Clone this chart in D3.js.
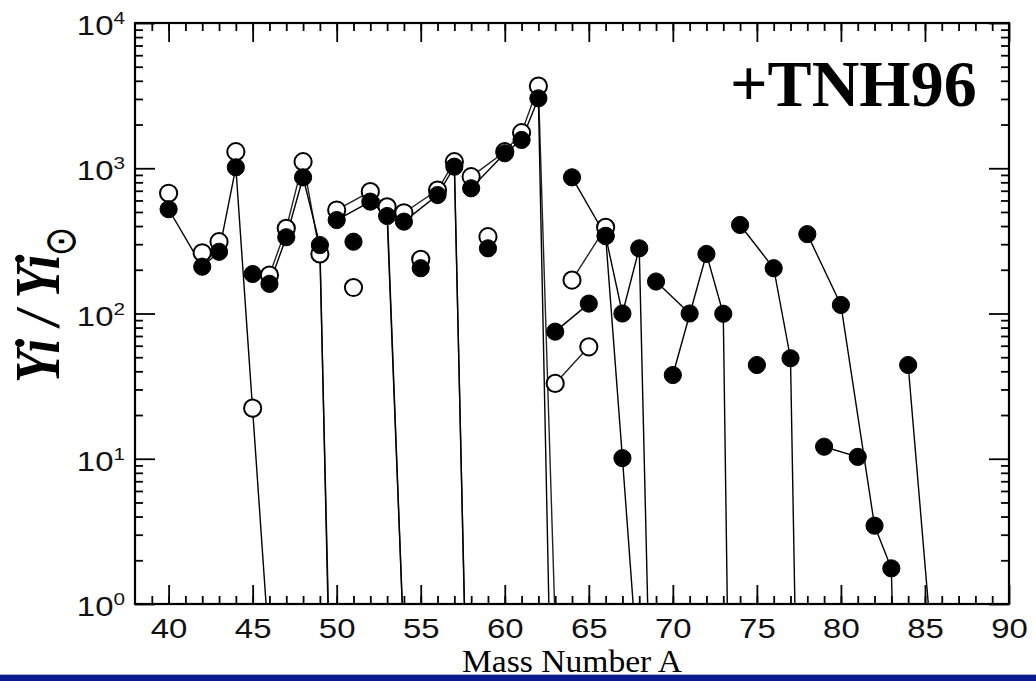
<!DOCTYPE html>
<html>
<head>
<meta charset="utf-8">
<script src="https://cdn.jsdelivr.net/npm/d3@7"></script>
<style>
  html, body { margin: 0; padding: 0; background: #fff; }
  svg { display: block; }
</style>
</head>
<body>
<div id="chart"></div>
<script>
// axis ticks
var massTicks = [40, 45, 50, 55, 60, 65, 70, 75, 80, 85, 90]
var decadeTicks = [1, 10, 100, 1000, 10000]
var decadeExp = ["0", "1", "2", "3", "4"]

// filled circles: [mass number, Yi / Yi(sun)], one array per element chain
var filledCa = [[40, 522], [42, 210], [43, 266], [44, 1015], [46, 0.46]]
var filledSc = [[45, 187]]
var filledTi = [[46, 160], [47, 335], [48, 866], [49, 296], [50, 0.002]]
var filledV = [[51, 312]]
var filledCr = [[50, 440], [52, 589], [53, 469], [54, 0.5]]
var filledMn = [[55, 205]]
var filledFe = [[54, 429], [56, 654], [57, 1025], [58, 0.01]]
var filledCo = [[59, 281]]
var filledNi = [[58, 728], [60, 1268], [61, 1566], [62, 3030], [64, 2e-8]]
var filledCu = [[63, 75], [65, 117]]
var filledZn = [[64, 866], [66, 342], [67, 100], [68, 281], [70, 5e-8]]
var filledZn2 = [[66, 342], [67, 10.1], [68, 0.27]]
var filledGa = [[69, 166], [71, 100]]
var filledGe = [[70, 37.7], [72, 257], [73, 99.6], [74, 5e-7]]
var filledAs = [[75, 44.2]]
var filledSe = [[74, 407], [76, 205], [77, 49.2], [78, 1.6e-5]]
var filledBr = [[79, 12.1], [81, 10.3]]
var filledKr = [[78, 352], [80, 114.5], [82, 3.46], [83, 1.76], [84, 1.6e-5]]
var filledSr = [[84, 44.2], [86, 0.08]]

// open circles (the Ca ones are not joined in the figure)
var openCa40 = [[40, 673]]
var openCa42 = [[42, 262]]
var openCa43 = [[43, 312]]
var openCa44 = [[44, 1300]]
var openSc = [[45, 22.3]]
var openTi = [[46, 184], [47, 386], [48, 1110], [49, 257], [50, 0.004]]
var openV = [[51, 151]]
var openCr = [[50, 516], [52, 690], [53, 543], [54, 0.5]]
var openMn = [[55, 236]]
var openFe = [[54, 494], [56, 708], [57, 1110], [58, 0.008]]
var openCo = [[59, 338]]
var openNi = [[58, 875], [60, 1300], [61, 1757], [62, 3680], [64, 1.4e-4]]
var openCu = [[63, 33], [65, 59]]
var openZn = [[64, 170], [66, 392]]

var filledChains = [filledCa, filledSc, filledTi, filledV, filledCr, filledMn, filledFe, filledCo,
    filledNi, filledCu, filledZn, filledZn2, filledGa, filledGe, filledAs, filledSe, filledBr, filledKr, filledSr]
var openChains = [openCa40, openCa42, openCa43, openCa44, openSc, openTi, openV, openCr, openMn,
    openFe, openCo, openNi, openCu, openZn]

function drawChart() {
    var W = 1036, H = 681
    var pL = 135, pR = 1009, pT = 23, pB = 604

    var svg = d3.select("#chart").append("svg")
        .attr("width", W)
        .attr("height", H)

    var x = d3.scaleLinear().domain([38, 90]).range([pL, pR])
    var y = d3.scaleLog().domain([1, 10000]).range([pB, pT])

    svg.append("clipPath").attr("id", "plotclip")
        .append("rect")
        .attr("x", pL).attr("y", pT)
        .attr("width", pR - pL).attr("height", pB - pT)

    var minorMass = d3.range(39, 90)
    var minorY = []
    decadeTicks.slice(0, -1).forEach(d => {
        for (var k = 2; k <= 9; k++) minorY.push(d * k)
    })

    function styleAxis(g) {
        g.select(".domain").remove()
        g.selectAll(".tick line").attr("stroke", "#000").attr("stroke-width", 1.8)
    }

    // bottom + top ticks
    svg.append("g").attr("transform", `translate(0,${pB})`)
        .call(d3.axisBottom(x).tickValues(minorMass).tickSize(-8).tickFormat(""))
        .call(styleAxis)
    var xAxis = svg.append("g").attr("transform", `translate(0,${pB})`)
        .call(d3.axisBottom(x).tickValues(massTicks).tickSize(-19).tickPadding(15).tickFormat(d3.format("d")))
        .call(styleAxis)
    xAxis.selectAll(".tick text")
        .attr("font-family", "'Liberation Sans', Arial, Helvetica, sans-serif")
        .attr("font-size", 27)
        .attr("fill", "#111")
        .attr("transform", "scale(1.22,1)")
    svg.append("g").attr("transform", `translate(0,${pT})`)
        .call(d3.axisTop(x).tickValues(minorMass).tickSize(-8).tickFormat(""))
        .call(styleAxis)
    svg.append("g").attr("transform", `translate(0,${pT})`)
        .call(d3.axisTop(x).tickValues(massTicks).tickSize(-19).tickFormat(""))
        .call(styleAxis)

    // left + right ticks
    svg.append("g").attr("transform", `translate(${pL},0)`)
        .call(d3.axisLeft(y).tickValues(minorY).tickSize(-8).tickFormat(""))
        .call(styleAxis)
    svg.append("g").attr("transform", `translate(${pL},0)`)
        .call(d3.axisLeft(y).tickValues(decadeTicks).tickSize(-20).tickFormat(""))
        .call(styleAxis)
    svg.append("g").attr("transform", `translate(${pR},0)`)
        .call(d3.axisRight(y).tickValues(minorY).tickSize(-8).tickFormat(""))
        .call(styleAxis)
    svg.append("g").attr("transform", `translate(${pR},0)`)
        .call(d3.axisRight(y).tickValues(decadeTicks).tickSize(-20).tickFormat(""))
        .call(styleAxis)

    // y tick labels 10^n
    var yLab = svg.append("g")
        .selectAll("text")
        .data(decadeTicks)
        .enter().append("text")
        .attr("transform", d => `translate(${pL - 10},${y(d) + 12}) scale(1.22,1)`)
        .attr("text-anchor", "end")
        .attr("font-family", "'Liberation Sans', Arial, Helvetica, sans-serif")
        .attr("font-size", 27)
        .attr("fill", "#111")
    yLab.append("tspan").text("10")
    yLab.append("tspan")
        .attr("font-size", 17)
        .attr("dy", -11)
        .text((d, i) => decadeExp[i])

    // frame
    svg.append("rect")
        .attr("x", pL).attr("y", pT)
        .attr("width", pR - pL).attr("height", pB - pT)
        .attr("fill", "none").attr("stroke", "#000").attr("stroke-width", 2.2)

    // lines
    var line = d3.line().x(d => x(d[0])).y(d => y(d[1]))
    var plot = svg.append("g").attr("clip-path", "url(#plotclip)")

    plot.selectAll(".chain-open")
        .data(openChains.filter(c => c.length > 1))
        .enter().append("path")
        .attr("class", "chain-open")
        .attr("d", line)
        .attr("fill", "none").attr("stroke", "#222").attr("stroke-width", 1.4)
    plot.selectAll(".chain-filled")
        .data(filledChains.filter(c => c.length > 1))
        .enter().append("path")
        .attr("class", "chain-filled")
        .attr("d", line)
        .attr("fill", "none").attr("stroke", "#000").attr("stroke-width", 1.4)

    // markers
    var r = 8.6
    plot.selectAll(".open")
        .data(openChains.flat().filter(d => d[1] >= 1))
        .enter().append("circle")
        .attr("class", "open")
        .attr("cx", d => x(d[0])).attr("cy", d => y(d[1]))
        .attr("r", r)
        .attr("fill", "#fff").attr("stroke", "#000").attr("stroke-width", 2)
    plot.selectAll(".filled")
        .data(filledChains.flat().filter(d => d[1] >= 1))
        .enter().append("circle")
        .attr("class", "filled")
        .attr("cx", d => x(d[0])).attr("cy", d => y(d[1]))
        .attr("r", r)
        .attr("fill", "#000").attr("stroke", "#000").attr("stroke-width", 1)

    // titles
    var cx = (pL + pR) / 2
    svg.append("text")
        .attr("transform", `translate(${cx},672) scale(1.05,1)`)
        .attr("text-anchor", "middle")
        .attr("font-family", "'Liberation Serif', 'Times New Roman', serif")
        .attr("font-size", 32)
        .text("Mass Number A")

    svg.append("text")
        .attr("x", 730)
        .attr("y", 106)
        .attr("font-family", "'Liberation Serif', 'Times New Roman', serif")
        .attr("font-weight", "bold")
        .attr("font-size", 66)
        .text("+TNH96")

    var yt = svg.append("text")
        .attr("transform", "translate(59,383) rotate(-90) scale(1,1.2)")
        .attr("font-family", "'Liberation Serif', 'Times New Roman', serif")
        .attr("font-weight", "bold")
        .attr("font-style", "italic")
        .attr("font-size", 53)
    yt.append("tspan").text("Yi / Yi")
    yt.append("tspan")
        .attr("font-family", "'DejaVu Sans', sans-serif")
        .attr("font-style", "normal")
        .attr("font-weight", "normal")
        .attr("font-size", 36)
        .attr("dx", -2)
        .attr("dy", 13)
        .text("\u2299")

    // slide bar at the bottom
    svg.append("rect")
        .attr("x", 0).attr("y", 675)
        .attr("width", W).attr("height", 6)
        .attr("fill", "#0b1a8f")
    svg.append("rect")
        .attr("x", 0).attr("y", 674)
        .attr("width", W).attr("height", 1)
        .attr("fill", "#9fb0d8")
}

drawChart()
</script>
</body>
</html>
